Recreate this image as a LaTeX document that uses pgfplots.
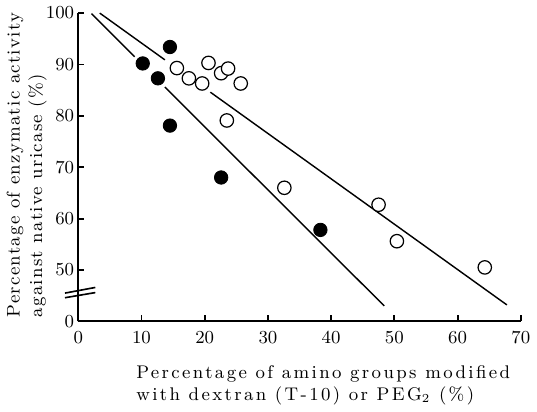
\documentclass[border=0pt]{standalone}
\usepackage{fontspec}
\setmainfont{Latin Modern Roman}
\usepackage{pgfplots}
\pgfplotsset{compat=1.18}
\newcommand{\lsx}{\addfontfeatures{LetterSpace=13}}
\newcommand{\lsy}{\addfontfeatures{LetterSpace=7}}

% y values below the break: 0 is drawn at 40
\begin{document}
\begin{tikzpicture}
\begin{axis}[
  scale only axis, width=217.5pt, height=151.5pt,
  xmin=0, xmax=70, ymin=40, ymax=100,
  axis lines=left, axis line style={line width=1.1pt, -},
  xtick={0,10,...,70},
  ytick={40,50,...,100}, yticklabels={0,50,60,70,80,90,100},
  tick pos=left, tick align=inside, major tick length=3pt,
  tick style={line width=0.9pt, black},
  tick label style={font=\small},
  xticklabel style={yshift=-1.5pt},
  yticklabel style={xshift=1.5pt},
  clip=false,
  xlabel={\lsx Percentage of amino groups modified\\\lsx with dextran (T-10) or PEG$_2$ (\%)},
  xlabel style={font=\small, align=left, at={(rel axis cs:0.115,0)}, anchor=north west, yshift=-18pt},
  ylabel={\lsy Percentage of enzymatic activity\\\lsy against native uricase (\%)},
  ylabel style={font=\small, align=left, at={(rel axis cs:0,0)}, anchor=south west, yshift=12pt, xshift=-1.5pt},
]
  % fitted lines, broken round the points
  \addplot[black, line width=0.7pt] coordinates {(2.1,99.9) (8.9,91.5)};
  \addplot[black, line width=0.7pt] coordinates {(13.7,85.6) (48.4,43.0)};
  \addplot[black, line width=0.7pt] coordinates {(3.4,100) (13.7,90.9)};
  \addplot[black, line width=0.7pt] coordinates {(20.9,84.6) (67.8,43.2)};
  % dextran (T-10)
  \addplot[only marks, mark=*, mark size=3.3pt, mark options={fill=black, draw=black}]
    coordinates {(10.2,90.2) (12.6,87.3) (14.5,93.4) (14.5,78.1) (22.6,68.0) (38.3,57.8)};
  % PEG2
  \addplot[only marks, mark=*, mark size=3.3pt, mark options={fill=white, draw=black, line width=0.6pt}]
    coordinates {(15.6,89.3) (17.5,87.3) (19.6,86.3) (20.6,90.3) (22.6,88.3) (23.7,89.2)
                 (25.7,86.3) (23.5,79.1) (32.6,66.0) (47.5,62.7) (50.4,55.6) (64.3,50.5)};
  % axis break
  \draw[line width=0.8pt] (axis cs:-2.1,45.5) -- (axis cs:2.7,46.6);
  \draw[line width=0.8pt] (axis cs:-2.1,44.6) -- (axis cs:2.7,45.6);
\end{axis}
\end{tikzpicture}
\end{document}
